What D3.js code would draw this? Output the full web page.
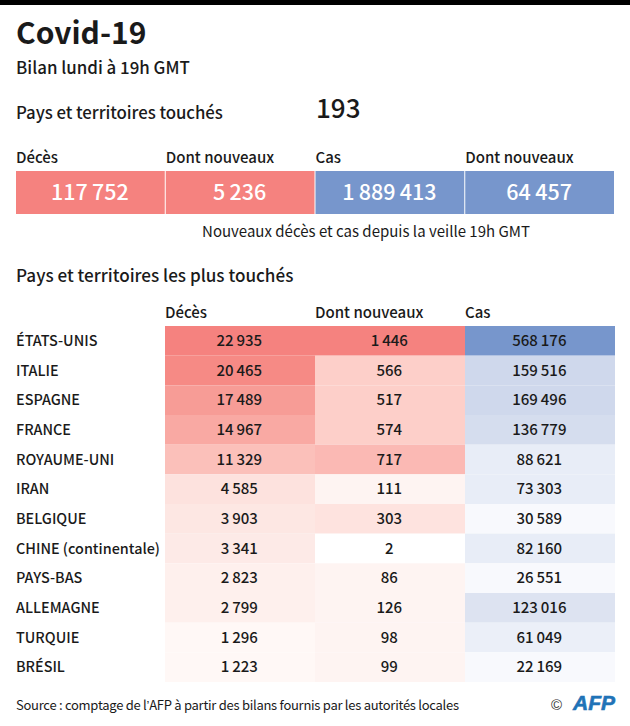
<!DOCTYPE html>
<html><head><meta charset="utf-8">
<script src="https://cdn.jsdelivr.net/npm/d3@7"></script>
<style>html,body{margin:0;padding:0;background:#fff}svg{display:block}text{font-family:"Noto Sans CJK SC","Noto Sans",sans-serif;fill:#1a1a1a;font-feature-settings:"palt" 1}</style>
</head><body><svg id="c" width="630" height="726"></svg>
<script>
const countries=["ÉTATS-UNIS","ITALIE","ESPAGNE","FRANCE","ROYAUME-UNI","IRAN","BELGIQUE","CHINE (continentale)","PAYS-BAS","ALLEMAGNE","TURQUIE","BRÉSIL"];
const deaths=[22935,20465,17489,14967,11329,4585,3903,3341,2823,2799,1296,1223];
const newDeaths=[1446,566,517,574,717,111,303,2,86,126,98,99];
const cases=[568176,159516,169496,136779,88621,73303,30589,82160,26551,123016,61049,22169];
const columnHeads=["Décès","Dont nouveaux","Cas"];
const totalHeads=["Décès","Dont nouveaux","Cas","Dont nouveaux"];
const totals=[117752,5236,1889413,64457];
const RED="#f5827f",BLUE="#7796cc";
const deathBreaks=[2000,3000,3500,4000,5000,12000,16000,19000,22000];
const deathColors=["#fff8f6","#fef0ed","#fdeae7","#fde7e3","#fde2de","#fbc0ba","#f9a9a3","#f79c96","#f68a85",RED];
const newBreaks=[50,200,400,600,1000];
const newColors=["#ffffff","#fef4f2","#fee3df","#fdcfc9","#fbb9b4",RED];
const caseBreaks=[50000,70000,100000,130000,150000,300000];
const caseColors=["#f8f9fd","#ebeff8","#e8edf7","#dde3f1","#d5ddee","#cfd8ec",BLUE];

const fr=d3.formatLocale({thousands:"\u2009",grouping:[3],decimal:",",currency:["","€"]}).format(",d");
const svg=d3.select("#c");
const txt=(x,y,s,size,o={})=>svg.append("text").attr("x",x).attr("y",y).attr("font-size",size)
  .attr("font-weight",o.w||400).attr("text-anchor",o.a||"start").attr("letter-spacing",o.ls||0).style("fill",o.f||"#1a1a1a").text(s);

svg.append("rect").attr("width",630).attr("height",5).attr("fill","#000");
txt(16,44,"Covid-19",30,{w:700});
txt(16,74,"Bilan lundi à 19h GMT",16.9,{w:500});
txt(16,119,"Pays et territoires touchés",16.8,{w:500,ls:-0.05});
txt(316,118,"193",26,{w:500});

const xTot=d3.scaleBand().domain(d3.range(4)).range([16,615]);
svg.selectAll(".th").data(totalHeads).join("text").attr("class","th")
  .attr("x",(d,i)=>xTot(i)).attr("y",163).attr("font-size",15).attr("font-weight",500).text(d=>d);
svg.selectAll(".tc").data(totals).join("rect").attr("class","tc")
  .attr("x",(d,i)=>xTot(i)).attr("y",171).attr("width",xTot.bandwidth()-1).attr("height",43)
  .attr("fill",(d,i)=>i<2?RED:BLUE);
svg.selectAll(".tv").data(totals).join("text").attr("class","tv")
  .attr("x",(d,i)=>xTot(i)+xTot.bandwidth()/2-1).attr("y",200).attr("text-anchor","middle")
  .attr("font-size",21.5).attr("font-weight",500).style("fill","#fff").text(d=>fr(d));
txt(366,237,"Nouveaux décès et cas depuis la veille 19h GMT",15,{a:"middle"});
txt(16,282,"Pays et territoires les plus touchés",17.1,{w:500});

const xCol=d3.scaleBand().domain(d3.range(3)).range([165,615]);
const yRow=d3.scaleBand().domain(d3.range(countries.length)).range([326,682]);
svg.selectAll(".ch").data(columnHeads).join("text").attr("class","ch")
  .attr("x",(d,i)=>xCol(i)).attr("y",318).attr("font-size",15).attr("font-weight",500).text(d=>d);
svg.selectAll(".rl").data(countries).join("text").attr("class","rl")
  .attr("x",16).attr("y",(d,i)=>yRow(i)+yRow.bandwidth()/2+5).attr("font-size",14.4).attr("font-weight",500).text(d=>d);
const cols=[
 {v:deaths,s:d3.scaleThreshold().domain(deathBreaks).range(deathColors)},
 {v:newDeaths,s:d3.scaleThreshold().domain(newBreaks).range(newColors)},
 {v:cases,s:d3.scaleThreshold().domain(caseBreaks).range(caseColors)}];
cols.forEach((c,j)=>{
  svg.selectAll(".cell"+j).data(c.v).join("rect").attr("class","cell"+j)
    .attr("x",xCol(j)).attr("y",(d,i)=>yRow(i)).attr("width",xCol.bandwidth()).attr("height",yRow.bandwidth()).attr("fill",d=>c.s(d));
  svg.selectAll(".val"+j).data(c.v).join("text").attr("class","val"+j)
    .attr("x",xCol(j)+xCol.bandwidth()/2-0.7).attr("y",(d,i)=>yRow(i)+yRow.bandwidth()/2+5)
    .attr("text-anchor","middle").attr("font-size",15).attr("font-weight",500).text(d=>fr(d));
});
const src=svg.append("text").attr("x",16).attr("y",710).attr("font-size",13).attr("letter-spacing",-0.27);
src.append("tspan").text("Source : comptage de l");
src.append("tspan").style("font-family","'Liberation Sans'").text("’");
src.append("tspan").text("AFP à partir des bilans fournis par les autorités locales");
svg.append("text").attr("x",551).attr("y",710).attr("font-size",15).style("font-family","'Liberation Sans'").style("fill","#333").text("©");
svg.append("text").attr("x",615).attr("y",710).attr("text-anchor","end").attr("font-size",21).attr("font-weight",700)
  .attr("font-style","italic").attr("stroke","#1f73b7").attr("stroke-width",0.6)
  .style("font-family","'Liberation Sans'").style("fill","#1f73b7").text("AFP");
</script></body></html>
